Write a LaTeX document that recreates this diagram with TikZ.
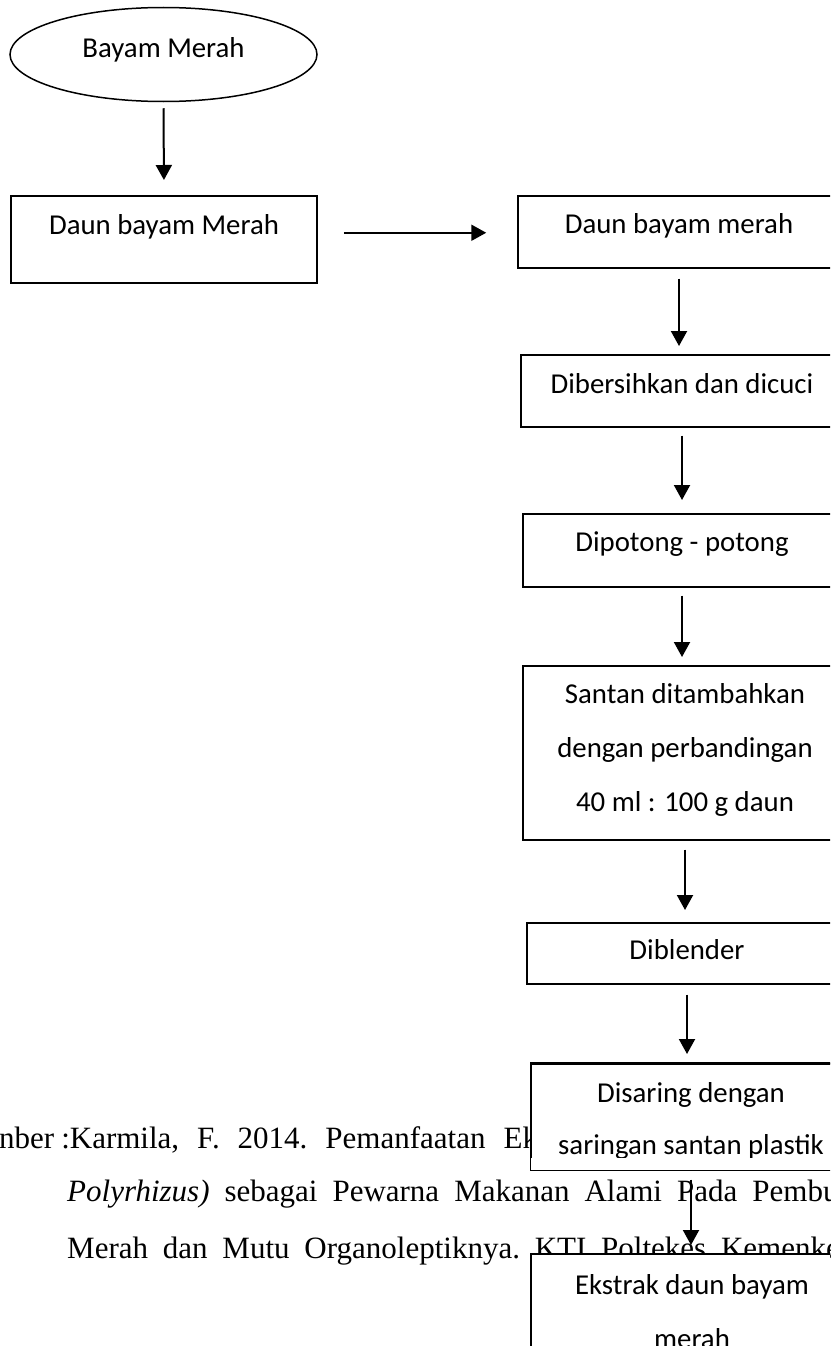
\documentclass[tikz,border=0pt]{standalone}
\usepackage{fontspec}
\setmainfont{Liberation Serif}
\newfontfamily\calfont{Carlito}
\usetikzlibrary{shapes.geometric,arrows.meta}
\newcommand{\boxfontA}{\calfont\fontsize{28.8}{54}\selectfont}
\newcommand{\boxfontB}{\calfont\fontsize{28.8}{52}\selectfont}
\newcommand{\reffont}{\fontsize{31}{37}\selectfont}
\begin{document}
\begin{tikzpicture}[x=1pt,y=-1pt,
  box/.style={draw, line width=1.5pt, fill=white, rectangle, inner sep=0pt, anchor=north, align=center, font=\boxfontA},
  flow/.style={line width=2pt, -{Triangle[width=16pt,length=15pt]}},
  reftext/.style={anchor=base west, inner sep=0pt, font=\reffont}]
\useasboundingbox (0,0) rectangle (830,1346);
\fill[white] (0,0) rectangle (830,1346);
\clip (0,0) rectangle (830,1346);

% reference text (behind the boxes)
\node[reftext] (r1) at (-1,1148) {\frenchspacing\spaceskip=18pt nber\hspace{7pt}:Karmila, F. 2014. Pemanfaatan Ek};
\node[reftext] (r2) at (67,1201) {\frenchspacing\spaceskip=15pt \textit{Polyrhizus)} sebagai Pewarna Makanan Alami Pada Pembu};
\node[reftext] (r3) at (67,1258) {\frenchspacing\spaceskip=14.8pt Merah dan Mutu Organoleptiknya. KTI Poltekes Kemenke};

% left column
\node[draw, ellipse, line width=1.5pt, inner sep=0pt, minimum width=307pt, minimum height=94pt,
      text height=20pt, text depth=15pt, font=\boxfontA] (e0) at (163.5,54.5) {Bayam Merah};
\node[box, minimum width=306pt, text height=39pt, text depth=48pt] (b1) at (164,195) {Daun bayam Merah};

% right column
\node[box, minimum width=322pt, text height=38pt, text depth=34pt] (b2) at (679,195) {Daun bayam merah};
\node[box, minimum width=322pt, text height=39pt, text depth=33pt] (b3) at (682,354) {Dibersihkan dan dicuci};
\node[box, minimum width=318pt, text height=38pt, text depth=35pt] (b4) at (682,513) {Dipotong - potong};
\node[box, minimum width=324pt, text height=146pt, text depth=28pt] (b5) at (685,665) {Santan ditambahkan\\dengan perbandingan\\40 ml : 100 g daun};
\node[box, minimum width=320pt, text height=37pt, text depth=24pt] (b6) at (687,922) {Diblender};
\begin{scope}
  \clip (0,0) rectangle (830,1157);
  \node[box, minimum width=320pt, text height=91pt, text depth=15pt, font=\boxfontB] (b7) at (691,1063) {Disaring dengan\\saringan santan plastik};
\end{scope}
\draw[line width=1.5pt] (b7.north west) rectangle (b7.south east);
\node[box, minimum width=322pt, text height=95pt, text depth=72pt] (b8) at (692,1253) {Ekstrak daun bayam\\merah};

% connectors
\draw[flow, shorten <=6pt, shorten >=15pt] (e0.south) -- (b1.north);
\draw[flow, shorten <=26pt, shorten >=31pt] ([yshift=6.5pt]b1.east) -- ([yshift=6.5pt]b1.east -| b2.west);
\draw[flow, shorten <=10pt, shorten >=8pt] (b2.south) -- (b2.south |- b3.north);
\draw[flow, shorten <=8pt, shorten >=13pt] (b3.south) -- (b3.south |- b4.north);
\draw[flow, shorten <=8pt, shorten >=8pt] (b4.south) -- (b4.south |- b5.north);
\draw[flow, shorten <=9pt, shorten >=12pt] (b5.south) -- (b5.south |- b6.north);
\draw[flow, shorten <=10pt, shorten >=9pt] (b6.south) -- (b6.south |- b7.north);
\draw[flow, shorten <=9pt, shorten >=8pt] (b7.south) -- (b7.south |- b8.north);
\end{tikzpicture}
\end{document}
